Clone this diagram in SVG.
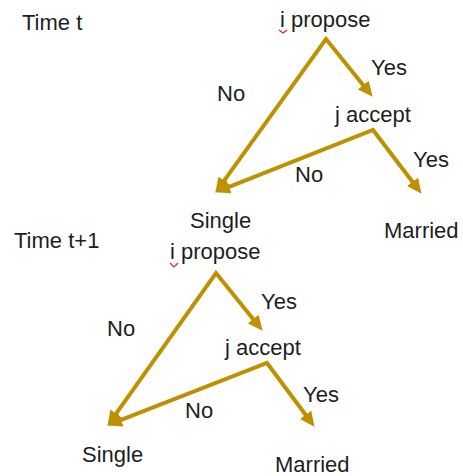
<svg xmlns="http://www.w3.org/2000/svg" width="463" height="476" viewBox="0 0 463 476">
<style>
text { font-family: "Liberation Sans", Arial, sans-serif; font-size: 22px; fill: #1e1e1e; }
.conn { fill: none; stroke: #BF9000; stroke-width: 4; stroke-linejoin: miter; }
.squig { fill: none; stroke: #e02020; stroke-width: 1.2; }
</style>
<defs>
<marker id="ah" markerUnits="userSpaceOnUse" markerWidth="16" markerHeight="14" viewBox="0 0 16 14" refX="4" refY="7" orient="auto-start-reverse">
<path d="M0,0 L15,7 L0,14 z" fill="#BF9000"/>
</marker>
</defs>
<rect width="463" height="476" fill="#fff"/>
<g id="connectors">
<path class="conn" d="M221.8,183.9 L326,39 L365.7,88.2" marker-start="url(#ah)" marker-end="url(#ah)"/>
<path class="conn" d="M225.3,188.3 L373,130 L414.9,185" marker-start="url(#ah)" marker-end="url(#ah)"/>
<path class="conn" d="M113.8,416.9 L216,273 L255.7,322.2" marker-start="url(#ah)" marker-end="url(#ah)"/>
<path class="conn" d="M117.3,421.4 L267,363 L308,418" marker-start="url(#ah)" marker-end="url(#ah)"/>
</g>
<g id="time-t"><text x="22" y="30">Time t</text></g>
<g id="time-t1"><text x="14" y="248">Time t+1</text></g>
<g id="propose-1"><text x="280" y="27">i propose</text><polyline class="squig" points="279,30 283,33 287,30"/></g>
<g id="accept-1"><text x="335" y="122">j accept</text></g>
<g id="single-1"><text x="190" y="228">Single</text></g>
<g id="married-1"><text x="384" y="238">Married</text></g>
<g id="labels-1">
<text x="371" y="75">Yes</text>
<text x="217" y="101">No</text>
<text x="413" y="167">Yes</text>
<text x="295" y="182">No</text>
</g>
<g id="propose-2"><text x="170" y="259">i propose</text><polyline class="squig" points="170,263 174,267 178,263"/></g>
<g id="accept-2"><text x="225" y="355">j accept</text></g>
<g id="single-2"><text x="82" y="462">Single</text></g>
<g id="married-2"><text x="275" y="472">Married</text></g>
<g id="labels-2">
<text x="261" y="309">Yes</text>
<text x="107" y="336">No</text>
<text x="303" y="402">Yes</text>
<text x="185" y="418">No</text>
</g>
</svg>
